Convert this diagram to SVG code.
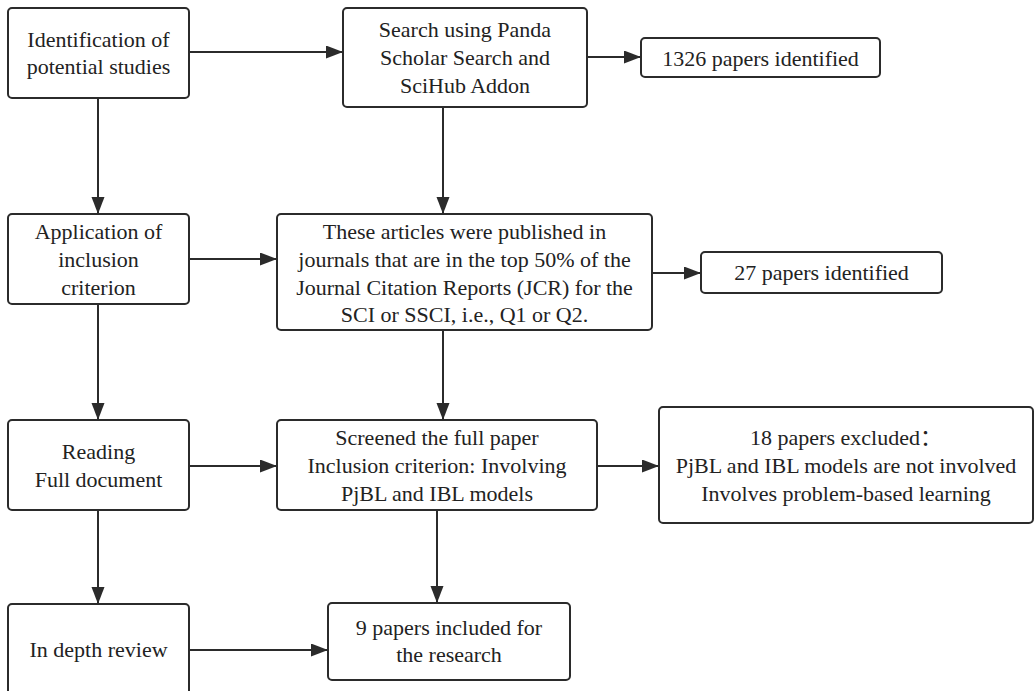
<svg xmlns="http://www.w3.org/2000/svg" width="1035" height="691" viewBox="0 0 1035 691">
<style>
.box{fill:#fff;stroke:#2b2b2b;stroke-width:2}
.t{font-size:22px;fill:#222;text-anchor:middle}
.cjk{font-family:'Noto Sans CJK SC',serif}
.c{stroke:#2b2b2b;stroke-width:2;fill:none;marker-end:url(#ah)}
</style>
<defs>
<marker id="ah" markerUnits="userSpaceOnUse" markerWidth="18" markerHeight="14" refX="17" refY="6.5" orient="auto">
<path d="M0,0 L17,6.5 L0,13 z" fill="#2b2b2b"/>
</marker>
</defs>
<rect width="1035" height="691" fill="#fff"/>
<g id="connectors">
<line class="c" x1="189" y1="52" x2="343" y2="52"/>
<line class="c" x1="587" y1="57" x2="641" y2="57"/>
<line class="c" x1="98" y1="98" x2="98" y2="214"/>
<line class="c" x1="443" y1="107" x2="443" y2="214"/>
<line class="c" x1="189" y1="259" x2="277" y2="259"/>
<line class="c" x1="652" y1="273" x2="701" y2="273"/>
<line class="c" x1="98" y1="304" x2="98" y2="420"/>
<line class="c" x1="443" y1="330" x2="443" y2="420"/>
<line class="c" x1="189" y1="466" x2="277" y2="466"/>
<line class="c" x1="597" y1="466" x2="659" y2="466"/>
<line class="c" x1="98" y1="510" x2="98" y2="604"/>
<line class="c" x1="437" y1="510" x2="437" y2="603"/>
<line class="c" x1="189" y1="650" x2="328" y2="650"/>
</g>
<g font-family="Liberation Serif, DejaVu Serif, serif">
<g id="identification">
<rect class="box" x="8" y="8" width="181" height="90" rx="4"/>
<text class="t" x="98.5" y="47">Identification of</text>
<text class="t" x="98.5" y="74">potential studies</text>
</g>
<g id="search">
<rect class="box" x="343" y="8" width="244" height="99" rx="4"/>
<text class="t" x="465" y="37">Search using Panda</text>
<text class="t" x="465" y="65">Scholar Search and</text>
<text class="t" x="465" y="93">SciHub Addon</text>
</g>
<g id="identified1326">
<rect class="box" x="641" y="38" width="239" height="39" rx="4"/>
<text class="t" x="760.5" y="66">1326 papers identified</text>
</g>
<g id="application">
<rect class="box" x="8" y="214" width="181" height="90" rx="4"/>
<text class="t" x="98.5" y="239">Application of</text>
<text class="t" x="98.5" y="267">inclusion</text>
<text class="t" x="98.5" y="295">criterion</text>
</g>
<g id="journals">
<rect class="box" x="277" y="214" width="375" height="116" rx="4"/>
<text class="t" x="464.5" y="239">These articles were published in</text>
<text class="t" x="464.5" y="267">journals that are in the top 50% of the</text>
<text class="t" x="464.5" y="295">Journal Citation Reports (JCR) for the</text>
<text class="t" x="464.5" y="322">SCI or SSCI, i.e., Q1 or Q2.</text>
</g>
<g id="identified27">
<rect class="box" x="701" y="252" width="241" height="41" rx="4"/>
<text class="t" x="821.5" y="280">27 papers identified</text>
</g>
<g id="reading">
<rect class="box" x="8" y="420" width="181" height="90" rx="4"/>
<text class="t" x="98.5" y="459">Reading</text>
<text class="t" x="98.5" y="487">Full document</text>
</g>
<g id="screened">
<rect class="box" x="277" y="420" width="320" height="90" rx="4"/>
<text class="t" x="437" y="445">Screened the full paper</text>
<text class="t" x="437" y="473">Inclusion criterion: Involving</text>
<text class="t" x="437" y="501">PjBL and IBL models</text>
</g>
<g id="excluded18">
<rect class="box" x="659" y="407" width="374" height="116" rx="4"/>
<text class="t" x="846" y="445">18 papers excluded<tspan class="cjk">：</tspan></text>
<text class="t" x="846" y="473">PjBL and IBL models are not involved</text>
<text class="t" x="846" y="501">Involves problem-based learning</text>
</g>
<g id="indepth">
<rect class="box" x="8" y="604" width="181" height="92" rx="4"/>
<text class="t" x="98.5" y="657">In depth review</text>
</g>
<g id="included9">
<rect class="box" x="328" y="603" width="242" height="77" rx="4"/>
<text class="t" x="449" y="635">9 papers included for</text>
<text class="t" x="449" y="662">the research</text>
</g>
</g>
</svg>
